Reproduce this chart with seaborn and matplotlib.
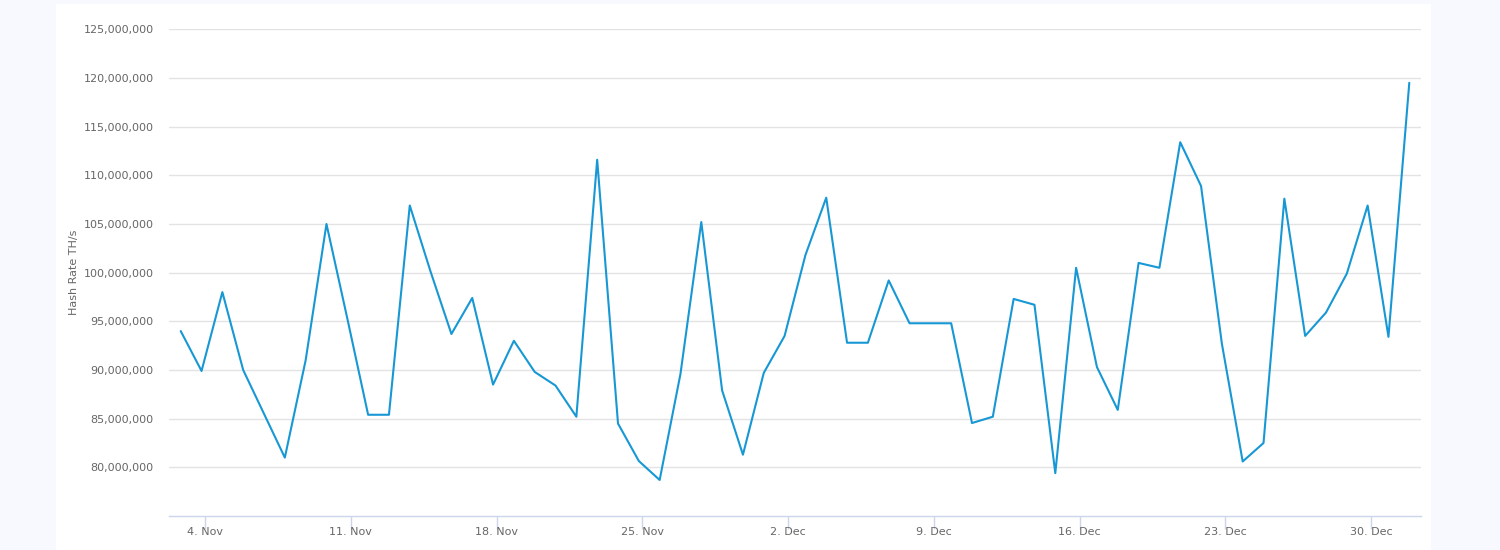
import pandas as pd
import seaborn as sns
import matplotlib.pyplot as plt
import matplotlib.dates as mdates
from matplotlib.ticker import FuncFormatter
from matplotlib.patches import Rectangle

# Daily hash rate readings (millions TH/s)
start_time = '2018-11-02 20:00'
hash_rate_millions = [
    94.0, 89.9, 98.0, 90.0, 85.5, 81.0, 91.0, 105.0, 95.3, 85.4,
    85.4, 106.9, 100.1, 93.7, 97.4, 88.5, 93.0, 89.8, 88.4, 85.2,
    111.6, 84.5, 80.65, 78.7, 89.6, 105.2, 87.9, 81.3, 89.7, 93.5,
    101.8, 107.7, 92.8, 92.8, 99.2, 94.8, 94.8, 94.8, 84.55, 85.2,
    97.3, 96.7, 79.4, 100.5, 90.3, 85.9, 101.0, 100.5, 113.4, 108.9,
    92.7, 80.6, 82.5, 107.6, 93.5, 95.9, 99.9, 106.9, 93.4, 119.5,
]
y_ticks = [80e6, 85e6, 90e6, 95e6, 100e6, 105e6, 110e6, 115e6, 120e6, 125e6]

df = pd.DataFrame({
    'Date': pd.date_range(start_time, periods=len(hash_rate_millions), freq='D'),
    'Hash Rate': [v * 1e6 for v in hash_rate_millions],
})

sns.set_style('white')
plt.rcParams['font.family'] = ['DejaVu Sans']

fig = plt.figure(figsize=(15, 5.5), dpi=100)
fig.patch.set_facecolor('#f8f9fe')
# white card behind the chart
fig.patches.append(Rectangle((56 / 1500, 0), (1431 - 56) / 1500, 546 / 550,
                             transform=fig.transFigure, facecolor='white',
                             edgecolor='none', zorder=-10))

ax = fig.add_axes([169 / 1500, 1 - 516 / 550, (1421 - 169) / 1500, (516 - 29.3) / 550])
ax.set_facecolor('none')

sns.lineplot(data=df, x='Date', y='Hash Rate', ax=ax, color='#1798d5', linewidth=1.5)

ax.set_ylim(75e6, 125e6)
ax.set_yticks(y_ticks)
ax.yaxis.set_major_formatter(FuncFormatter(lambda v, p: f'{v:,.0f}'))
ax.grid(axis='y', color='#e3e3e3', linewidth=1)
ax.set_axisbelow(True)

# weekly ticks on Sundays (4 Nov 2018 was a Sunday)
ax.set_xlim(pd.Timestamp('2018-11-02 06:30'), pd.Timestamp('2019-01-01 09:30'))
ax.xaxis.set_major_locator(mdates.WeekdayLocator(byweekday=mdates.SU))
ax.xaxis.set_major_formatter(mdates.DateFormatter('%-d. %b'))

for side in ['top', 'right', 'left']:
    ax.spines[side].set_visible(False)
ax.spines['bottom'].set_color('#ccd6eb')
ax.spines['bottom'].set_linewidth(1)

ax.tick_params(axis='x', bottom=True, colors='#ccd6eb', length=9, width=1, direction='out',
               labelcolor='#666666', labelsize=8, pad=-1)
ax.tick_params(axis='y', left=False, length=0, labelcolor='#666666', labelsize=8, pad=11)

ax.set_xlabel('')
ax.set_ylabel('Hash Rate TH/s', color='#666666', fontsize=8, labelpad=3.5)

fig.savefig('out.png', dpi=100, facecolor=fig.get_facecolor())
